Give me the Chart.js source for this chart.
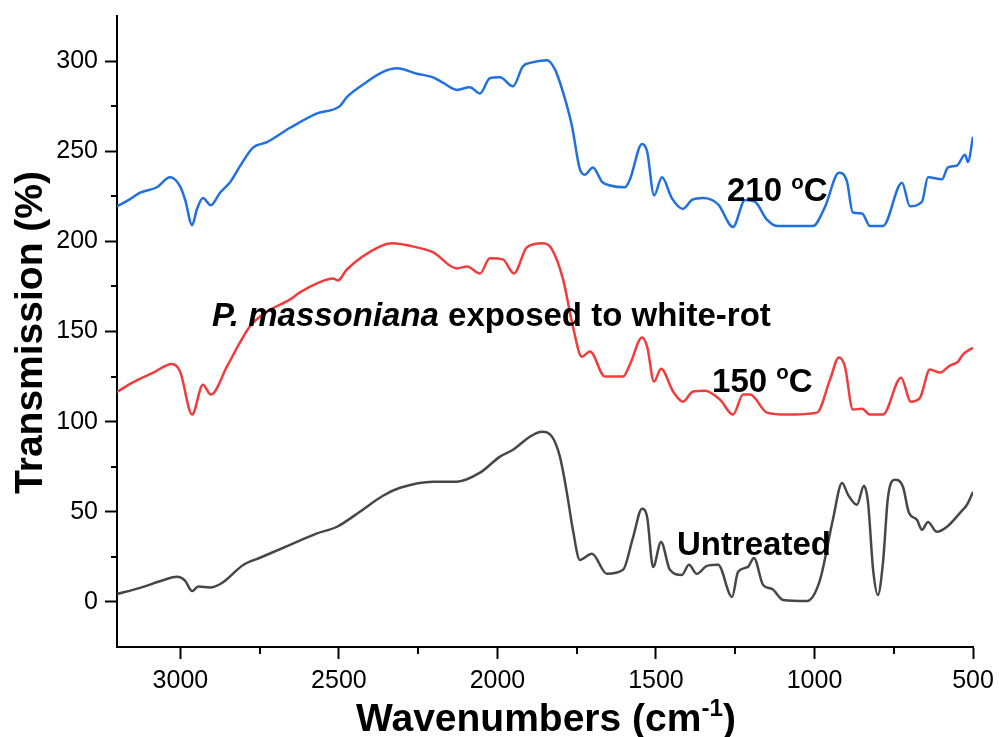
<!DOCTYPE html>
<html>
<head>
<meta charset="utf-8">
<script src="https://cdn.jsdelivr.net/npm/chart.js@4.4.1/dist/chart.umd.min.js"></script>
<style>
  html, body { margin: 0; background: #fff; }
</style>
</head>
<body>
<canvas id="ftir" width="999" height="737"></canvas>
<script>
// spectra (wavenumber, transmission %)
const wn210 = [3200, 3160, 3127, 3074, 3033, 3001, 2985, 2963, 2948, 2929, 2904, 2875, 2844, 2812, 2771, 2727, 2654, 2569, 2497, 2475, 2424, 2361, 2317, 2254, 2203, 2172, 2128, 2087, 2055, 2024, 1992, 1951, 1920, 1897, 1844, 1819, 1793, 1765, 1740, 1724, 1699, 1670, 1645, 1598, 1582, 1544, 1528, 1506, 1481, 1450, 1415, 1386, 1351, 1304, 1257, 1219, 1188, 1150, 1118, 1005, 967, 923, 898, 879, 850, 825, 784, 724, 699, 661, 642, 598, 579, 551, 525, 516, 500];
const t210 = [219.4, 223.3, 227, 230, 235.5, 230.5, 223, 209, 217.8, 224, 220, 227, 232.7, 241.7, 252, 255, 263, 271, 275, 280, 287, 294, 296, 293, 291, 288, 284, 285.5, 282, 290.5, 291, 286, 297, 299, 300.5, 295.5, 282.6, 264, 240, 237, 241, 233, 231, 230, 234.4, 254, 250, 225.5, 235.5, 224, 218, 223, 224, 220.5, 208, 223, 222, 212, 208.5, 208.5, 219, 238, 233.5, 216, 215.5, 208.5, 208.5, 232.5, 219.5, 222, 235.5, 234.4, 241, 242, 248, 244, 258];

const wn150 = [3200, 3150, 3087, 3027, 3001, 2963, 2929, 2904, 2853, 2812, 2781, 2727, 2654, 2623, 2569, 2519, 2503, 2475, 2370, 2333, 2285, 2203, 2128, 2096, 2055, 2024, 1983, 1948, 1907, 1856, 1828, 1793, 1762, 1734, 1708, 1661, 1604, 1582, 1544, 1528, 1506, 1484, 1446, 1415, 1383, 1345, 1298, 1257, 1225, 1203, 1150, 1087, 992, 951, 923, 904, 879, 850, 825, 784, 727, 696, 667, 636, 604, 573, 547, 532, 500];
const t150 = [116.5, 121.8, 127, 132, 127.8, 104, 120.5, 115, 130.6, 143.9, 152.8, 161, 167.8, 171.7, 176.7, 179.4, 178.3, 184.4, 197.2, 198.9, 197.8, 193.9, 185, 186.1, 182.2, 190.6, 190, 182.2, 196.7, 198.9, 195.6, 178.9, 152.8, 136, 138.9, 125, 125, 131.7, 146.7, 141.7, 122.2, 129.4, 116.7, 111.1, 116.7, 117.2, 112.2, 103.9, 115, 115, 105, 103.9, 105, 123.3, 135.6, 130.6, 106.7, 107.2, 103.9, 103.9, 124.4, 111.1, 113.3, 128.9, 127.2, 131.1, 133.3, 137.2, 141];

const wnRaw = [3200, 3127, 3055, 3011, 2986, 2963, 2944, 2907, 2869, 2802, 2749, 2654, 2569, 2506, 2434, 2361, 2307, 2203, 2128, 2055, 1992, 1951, 1897, 1860, 1828, 1803, 1781, 1762, 1740, 1702, 1655, 1604, 1572, 1544, 1528, 1509, 1484, 1456, 1418, 1396, 1371, 1339, 1304, 1260, 1241, 1210, 1191, 1162, 1134, 1099, 1024, 983, 942, 913, 894, 866, 844, 831, 815, 800, 784, 768, 746, 721, 702, 677, 661, 642, 614, 582, 541, 519, 500];
const tRaw = [4.4, 7.8, 12, 14, 12, 6, 8.5, 8, 10.5, 20.5, 24.5, 31.7, 38, 41.7, 50, 58.9, 63.3, 66.7, 66.7, 71.7, 80.6, 84.4, 91.7, 94.4, 91.7, 80.6, 60.6, 40, 23.3, 26.7, 15.6, 17.8, 36, 51.7, 47.2, 19.4, 33.3, 17.8, 15, 20.6, 15.6, 20, 20.6, 2.8, 16.7, 19.4, 24.4, 9.4, 7.2, 1.1, 0.5, 12, 45.6, 66, 59.4, 53.9, 64.4, 55, 17.8, 3.9, 21.7, 58.3, 67.8, 63.9, 49.4, 45.6, 40, 44.4, 38.9, 41.7, 49.4, 53.9, 61];

const xTicks = [3000, 2500, 2000, 1500, 1000, 500];
const xMinor = [2750, 2250, 1750, 1250, 750];
const yTicks = [0, 50, 100, 150, 200, 250, 300];
const yMinor = [25, 75, 125, 175, 225, 275];

const FONT = "'Liberation Sans', Arial, sans-serif";

// text labels anchored in data space: [wavenumber at left edge, T at baseline, parts]
const labels = [
  [1276, 222.2, [['210 '], ['o', 'sup'], ['C']]],
  [2900, 153.3, [['P. massoniana', 'it'], [' exposed to white-rot']]],
  [1323, 116.7, [['150 '], ['o', 'sup'], ['C']]],
  [1434, 26.1, [['Untreated']]]
];

const toPoints = (xs, ys) => xs.map((x, i) => ({ x: x, y: ys[i] }));

const setFont = (ctx, style, s) => {
  ctx.font = (style === 'it' ? 'italic ' : '') + 'bold ' + s + 'px ' + FONT;
};

// draw a run of text pieces, superscripts smaller and raised
const drawParts = (ctx, parts, x, y, size) => {
  let cx = x;
  parts.forEach(([txt, style]) => {
    const s = style === 'sup' ? size * 0.62 : size;
    const dy = style === 'sup' ? -size * 0.38 : 0;
    setFont(ctx, style, s);
    ctx.fillText(txt, cx, y + dy);
    cx += ctx.measureText(txt).width;
  });
  return cx - x;
};

const measureParts = (ctx, parts, size) => {
  let w = 0;
  parts.forEach(([txt, style]) => {
    setFont(ctx, style, style === 'sup' ? size * 0.62 : size);
    w += ctx.measureText(txt).width;
  });
  return w;
};

const extras = {
  id: 'extras',
  afterDraw(chart) {
    const { ctx, chartArea, scales } = chart;
    ctx.save();
    ctx.strokeStyle = '#000';
    ctx.lineWidth = 2;
    // minor ticks
    xMinor.forEach(v => {
      const px = Math.round(scales.x.getPixelForValue(v));
      ctx.beginPath();
      ctx.moveTo(px, chartArea.bottom);
      ctx.lineTo(px, chartArea.bottom + 7);
      ctx.stroke();
    });
    yMinor.forEach(v => {
      const py = Math.round(scales.y.getPixelForValue(v));
      ctx.beginPath();
      ctx.moveTo(chartArea.left - 6, py);
      ctx.lineTo(chartArea.left, py);
      ctx.stroke();
    });

    ctx.fillStyle = '#000';
    ctx.textBaseline = 'alphabetic';
    ctx.textAlign = 'left';
    labels.forEach(([wn, t, parts]) => {
      drawParts(ctx, parts, scales.x.getPixelForValue(wn), scales.y.getPixelForValue(t), 33);
    });

    // axis titles
    const xt = [['Wavenumbers (cm'], ['-1', 'sup'], [')']];
    const wx = measureParts(ctx, xt, 39);
    drawParts(ctx, xt, (chartArea.left + chartArea.right) / 2 - wx / 2 + 1, 731, 39);

    const yt = [['Transmission (%)']];
    const wy = measureParts(ctx, yt, 39);
    ctx.translate(42, (chartArea.top + chartArea.bottom) / 2 + 1);
    ctx.rotate(-Math.PI / 2);
    drawParts(ctx, yt, -wy / 2, 0, 39);
    ctx.restore();
  }
};

const lineSet = (data, color) => ({
  data: data,
  borderColor: color,
  borderWidth: 2.5,
  pointRadius: 0,
  fill: false,
  cubicInterpolationMode: 'monotone'
});

const tickFont = { family: FONT, size: 25 };

new Chart(document.getElementById('ftir'), {
  type: 'line',
  data: {
    datasets: [
      lineSet(toPoints(wnRaw, tRaw), '#474747'),
      lineSet(toPoints(wn150, t150), '#f23c3c'),
      lineSet(toPoints(wn210, t210), '#2170e0')
    ]
  },
  options: {
    responsive: false,
    animation: false,
    layout: { padding: { top: 16, right: 26, left: 0, bottom: 0 } },
    plugins: { legend: { display: false }, tooltip: { enabled: false } },
    scales: {
      x: {
        type: 'linear',
        reverse: true,
        min: 500,
        max: 3200,
        afterBuildTicks: s => { s.ticks = xTicks.map(v => ({ value: v })); },
        afterFit: s => { s.height = 90; s.paddingLeft = 0; s.paddingRight = 0; },
        ticks: { color: '#000', font: tickFont, padding: 7, maxRotation: 0, autoSkip: false, callback: v => String(v) },
        grid: { drawOnChartArea: false, tickLength: 12, tickWidth: 2, tickColor: '#000' },
        border: { color: '#000', width: 2 }
      },
      y: {
        min: -25,
        max: 325,
        afterBuildTicks: s => { s.ticks = yTicks.map(v => ({ value: v })); },
        afterFit: s => { s.width = 117; s.paddingTop = 0; s.paddingBottom = 0; },
        ticks: { color: '#000', font: tickFont, padding: 7, callback: v => String(v) },
        grid: { drawOnChartArea: false, tickLength: 12, tickWidth: 2, tickColor: '#000' },
        border: { color: '#000', width: 2 }
      }
    }
  },
  plugins: [extras]
});
</script>
</body>
</html>
